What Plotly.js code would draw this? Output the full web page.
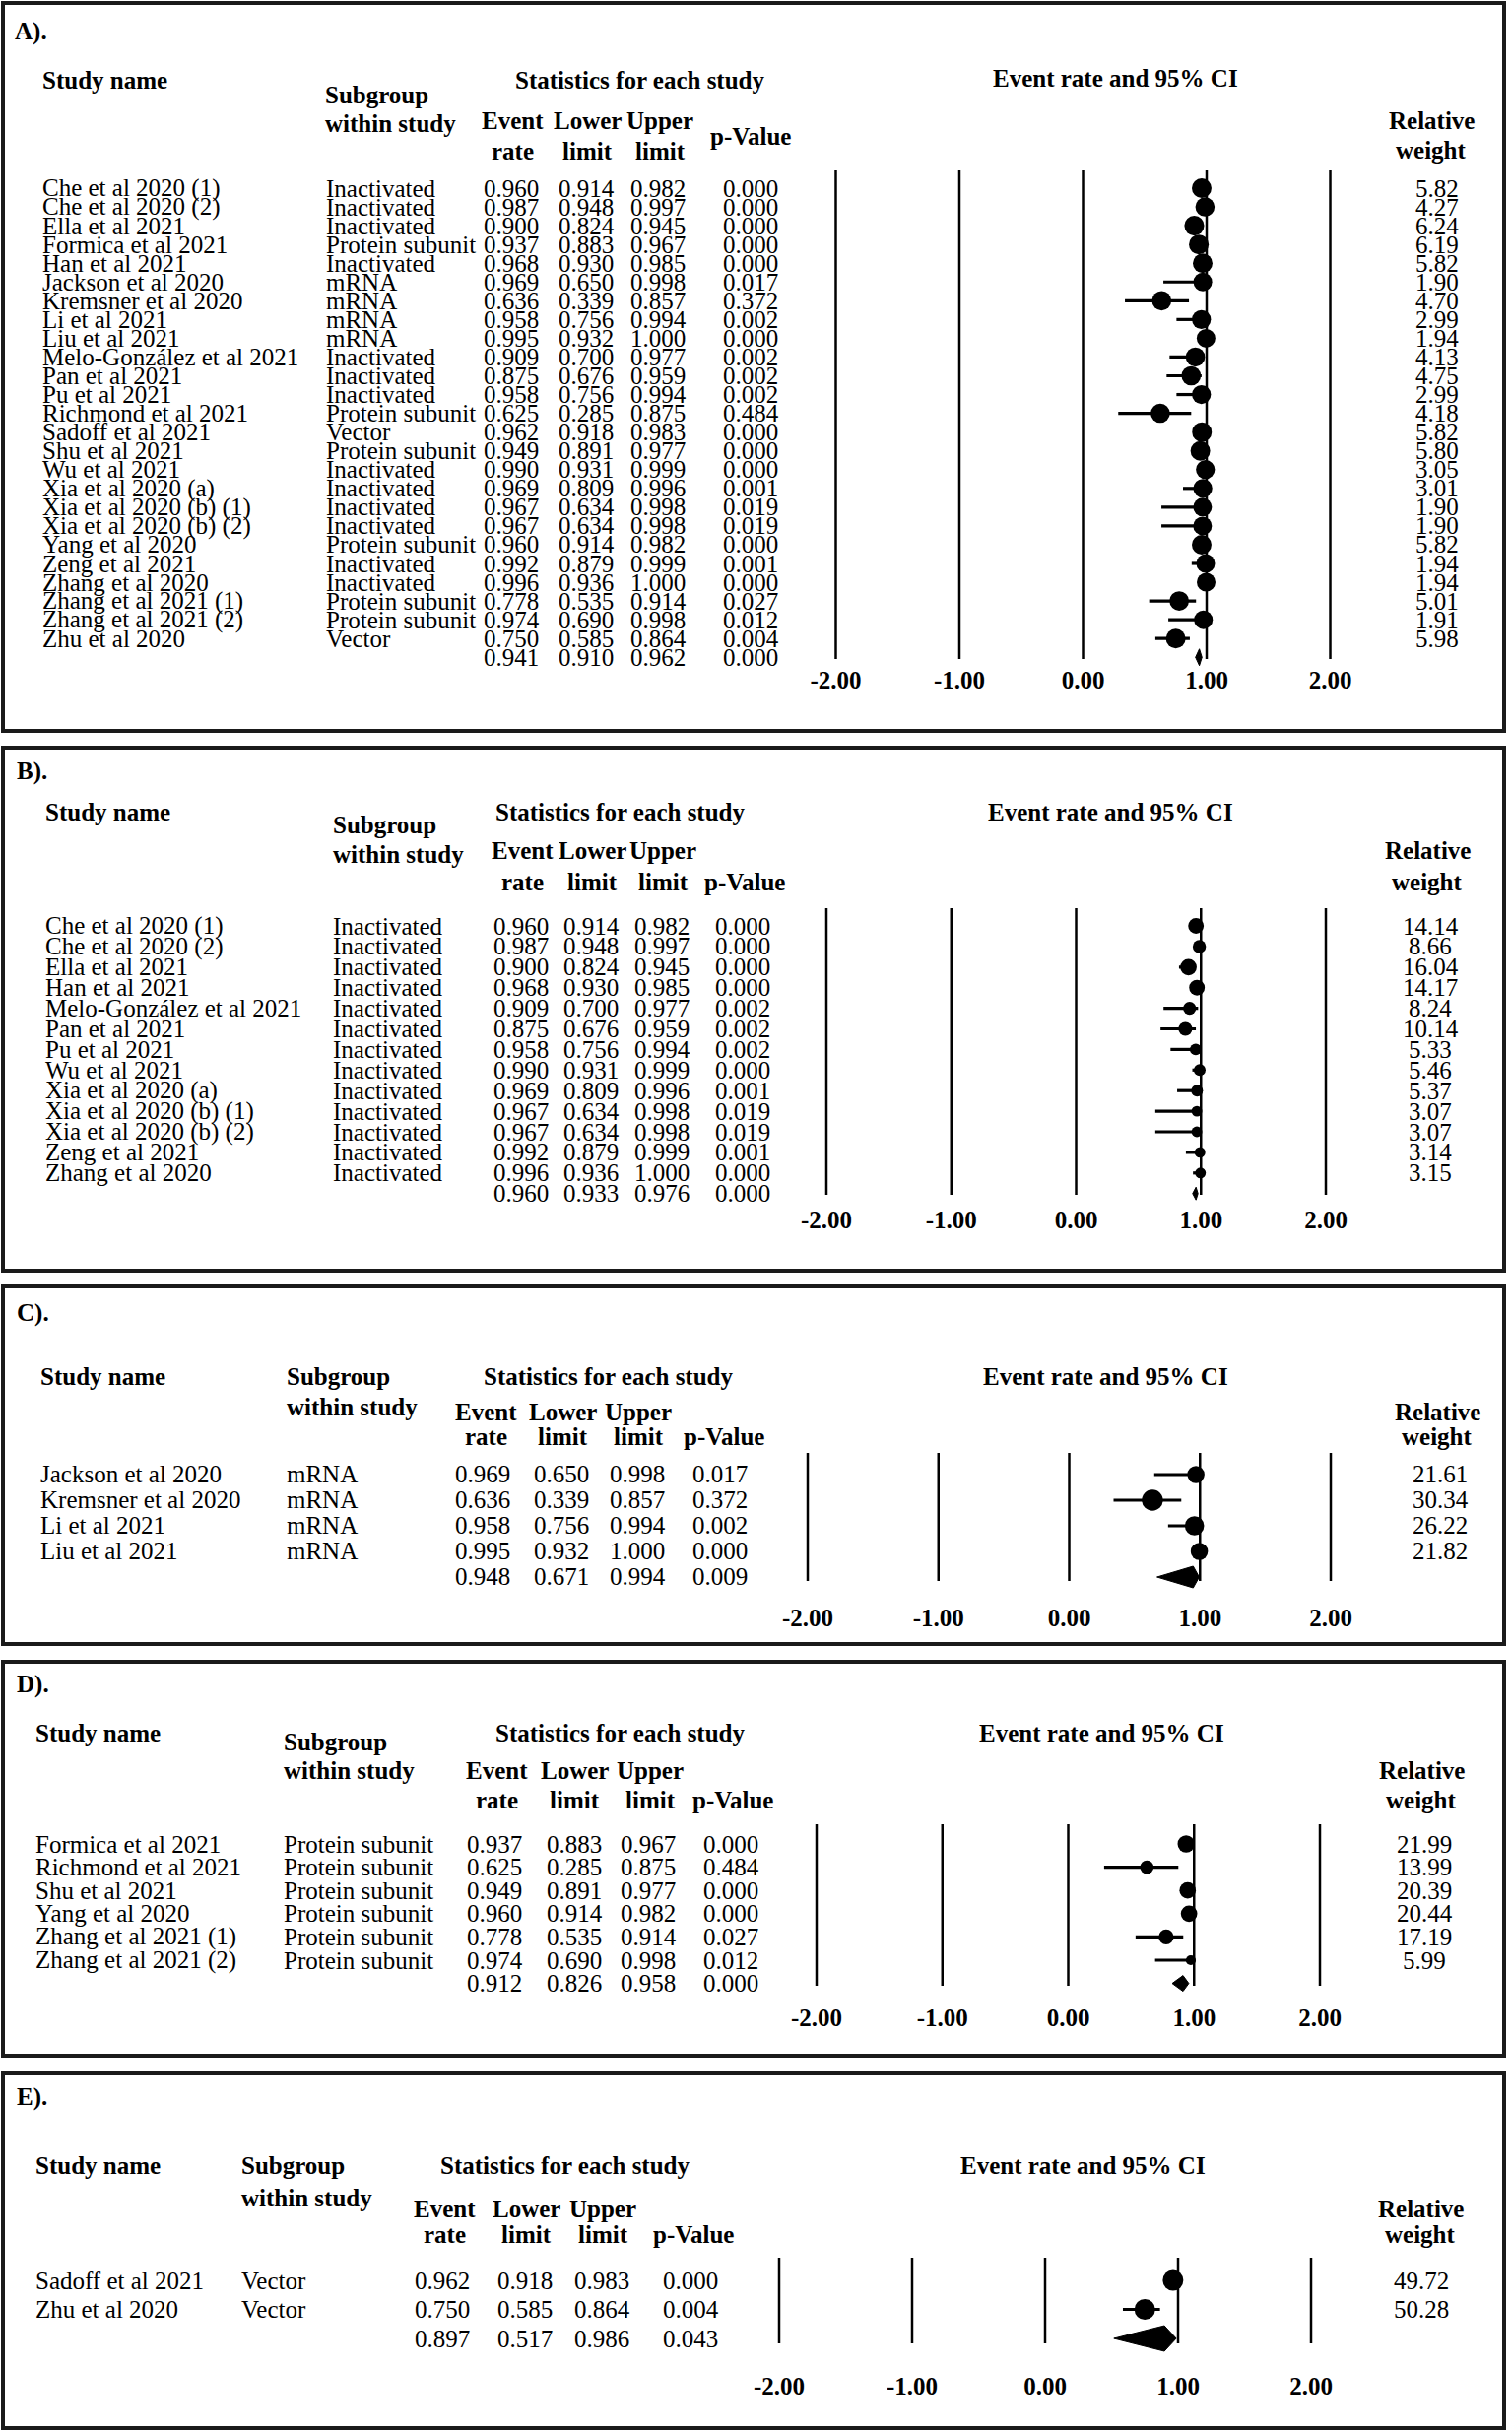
<!DOCTYPE html>
<html><head><meta charset="utf-8">
<script src="https://cdn.plot.ly/plotly-3.0.1.min.js"></script>
<style>html,body{margin:0;padding:0;background:#fff}#chart{width:1535px;height:2470px}</style>
</head><body><div id="chart"></div>
<script>
// ---------------- DATA ----------------
const studies = ["Che et al 2020 (1)","Che et al 2020 (2)","Ella et al 2021","Formica et al 2021","Han et al 2021",
  "Jackson et al 2020","Kremsner et al 2020","Li et al 2021","Liu et al 2021","Melo-González et al 2021",
  "Pan et al 2021","Pu et al 2021","Richmond et al 2021","Sadoff et al 2021","Shu et al 2021","Wu et al 2021",
  "Xia et al 2020 (a)","Xia et al 2020 (b) (1)","Xia et al 2020 (b) (2)","Yang et al 2020","Zeng et al 2021",
  "Zhang et al 2020","Zhang et al 2021 (1)","Zhang et al 2021 (2)","Zhu et al 2020"];
const subgroups = ["Inactivated","Inactivated","Inactivated","Protein subunit","Inactivated","mRNA","mRNA","mRNA","mRNA",
  "Inactivated","Inactivated","Inactivated","Protein subunit","Vector","Protein subunit","Inactivated","Inactivated",
  "Inactivated","Inactivated","Protein subunit","Inactivated","Inactivated","Protein subunit","Protein subunit","Vector"];
const eventRate = [0.960,0.987,0.900,0.937,0.968,0.969,0.636,0.958,0.995,0.909,0.875,0.958,0.625,0.962,0.949,0.990,0.969,0.967,0.967,0.960,0.992,0.996,0.778,0.974,0.750];
const lowerLimit = [0.914,0.948,0.824,0.883,0.930,0.650,0.339,0.756,0.932,0.700,0.676,0.756,0.285,0.918,0.891,0.931,0.809,0.634,0.634,0.914,0.879,0.936,0.535,0.690,0.585];
const upperLimit = [0.982,0.997,0.945,0.967,0.985,0.998,0.857,0.994,1.000,0.977,0.959,0.994,0.875,0.983,0.977,0.999,0.996,0.998,0.998,0.982,0.999,1.000,0.914,0.998,0.864];
const pValue = [0.000,0.000,0.000,0.000,0.000,0.017,0.372,0.002,0.000,0.002,0.002,0.002,0.484,0.000,0.000,0.000,0.001,0.019,0.019,0.000,0.001,0.000,0.027,0.012,0.004];

const weightA = [5.82,4.27,6.24,6.19,5.82,1.90,4.70,2.99,1.94,4.13,4.75,2.99,4.18,5.82,5.80,3.05,3.01,1.90,1.90,5.82,1.94,1.94,5.01,1.91,5.98];
const weightB = [14.14,8.66,16.04,14.17,8.24,10.14,5.33,5.46,5.37,3.07,3.07,3.14,3.15];
const weightC = [21.61,30.34,26.22,21.82];
const weightD = [21.99,13.99,20.39,20.44,17.19,5.99];
const weightE = [49.72,50.28];

const panelLabels = ["A).","B).","C).","D).","E)."];
const panelGroups = [null,"Inactivated","mRNA","Protein subunit","Vector"];
const pooledRate  = [0.941,0.960,0.948,0.912,0.897];
const pooledLower = [0.910,0.933,0.671,0.826,0.517];
const pooledUpper = [0.962,0.976,0.994,0.958,0.986];
const pooledP     = [0.000,0.000,0.009,0.000,0.043];
const tickVals = [-2,-1,0,1,2];

// ---------------- LAYOUT GEOMETRY (pixels) ----------------
const W = 1535, H = 2470;
const FONT = "Liberation Serif, 'Times New Roman', Times, serif";
const geo = [
 {box:[3,3,1527,742], lab:[13,32],
  head:{study:[41,82], sub:[328,97,126], stats:[650,82], cols:[520,596,670], hy:[123,153], p:[762,138], ci:[1132,80], rel:[1453,123,152]},
  rows:{first:191, step:19.05}, cols:{name:41, sub:329, rate:519, lower:595, upper:668, p:762, w:1459},
  forest:{zero:1099.5, unit:125.5, top:173, bottom:669, tickY:690}, mk:[18.5,0.25], dh:8.5},
 {box:[3,759,1527,1290], lab:[15,783],
  head:{study:[44,824], sub:[336,837,867], stats:[630,824], cols:[530,601,673], hy:[864,895], p:[756,895], ci:[1127,824], rel:[1449,864,895]},
  rows:{first:940, step:20.9}, cols:{name:44, sub:336, rate:529, lower:600, upper:672, p:754, w:1452},
  forest:{zero:1092.5, unit:126.75, top:922, bottom:1213, tickY:1238}, mk:[9.5,0.45], dh:6.5},
 {box:[3,1306,1527,1669], lab:[15,1333],
  head:{study:[39,1397], sub:[289,1397,1428], stats:[618,1397], cols:[493,571,648], hy:[1433,1458], p:[735,1458], ci:[1122,1397], rel:[1459,1433,1458]},
  rows:{first:1497, step:26}, cols:{name:39, sub:289, rate:490, lower:570, upper:647, p:731, w:1462},
  forest:{zero:1085.5, unit:132.75, top:1475, bottom:1605, tickY:1642}, mk:[7.5,0.46], dh:11},
 {box:[3,1687,1527,2087], lab:[15,1710],
  head:{study:[34,1760], sub:[286,1768,1797], stats:[630,1760], cols:[504,583,660], hy:[1797,1827], p:[744,1827], ci:[1118,1760], rel:[1443,1797,1827]},
  rows:{first:1872, step:23.6}, cols:{name:34, sub:286, rate:502, lower:583, upper:658, p:742, w:1446},
  forest:{zero:1084.5, unit:127.75, top:1852, bottom:2016, tickY:2048}, mk:[7.5,0.45], dh:8},
 {box:[3,2105,1527,2465], lab:[15,2129],
  head:{study:[34,2198], sub:[243,2198,2231], stats:[574,2198], cols:[451,534,612], hy:[2242,2268], p:[704,2268], ci:[1099,2198], rel:[1442,2242,2268]},
  rows:{first:2315, step:29.5}, cols:{name:34, sub:243, rate:449, lower:533, upper:611, p:701, w:1443},
  forest:{zero:1061, unit:135, top:2292, bottom:2379, tickY:2422}, mk:[12,0.18], dh:13}
];
const panelWeights = [weightA, weightB, weightC, weightD, weightE];

const px = x => x / W;
const py = y => 1 - y / H;
const bodyFont = {family: FONT, size: 25, color: "#000"};
const headFont = {family: FONT, size: 25, color: "#000"};

const traces = [], annotations = [], shapes = [];
const layout = {width: W, height: H, margin: {l:0, r:0, t:0, b:0}, showlegend: false,
  paper_bgcolor: "#fff", plot_bgcolor: "rgba(0,0,0,0)", annotations, shapes};

function paperText(text, x, y, anchor, font) {
  annotations.push({text, x: px(x), y: py(y), xref: "paper", yref: "paper", xanchor: anchor, yanchor: "middle",
    showarrow: false, font: font || headFont});
}

geo.forEach((g, k) => {
  const ax = k === 0 ? "" : String(k + 1);
  const xName = "xaxis" + ax, yName = "yaxis" + ax;
  const xr = "x" + ax, yr = "y" + ax;
  // rows of this panel
  const idx = studies.map((s, i) => i).filter(i => panelGroups[k] === null || subgroups[i] === panelGroups[k]);
  const wts = panelWeights[k];
  const n = idx.length;
  const rowVal = p => (p - g.rows.first) / g.rows.step;
  const yTop = g.forest.top - 20, yBot = g.forest.bottom + 20;
  const f = g.forest;
  layout[xName] = {domain: [px(f.zero - 2.25 * f.unit), px(f.zero + 2.25 * f.unit)], range: [-2.25, 2.25],
    anchor: "free", position: py(f.tickY - 17), tickmode: "array", tickvals: tickVals,
    ticktext: tickVals.map(v => "<b>" + v.toFixed(2) + "</b>"), ticks: "", showgrid: false, zeroline: false,
    showline: false, tickfont: {family: FONT, size: 25, color: "#000"}, fixedrange: true};
  layout[yName] = {domain: [py(yBot), py(yTop)], range: [rowVal(yBot), rowVal(yTop)], anchor: xr, visible: false,
    showgrid: false, zeroline: false, fixedrange: true};

  // box
  shapes.push({type: "rect", xref: "paper", yref: "paper", x0: px(g.box[0]), x1: px(g.box[2]), y0: py(g.box[1]), y1: py(g.box[3]),
    line: {color: "#1a1a1a", width: 4}, fillcolor: "rgba(0,0,0,0)"});
  // vertical reference lines
  tickVals.forEach(v => shapes.push({type: "line", xref: xr, yref: "paper", x0: v, x1: v, y0: py(f.top), y1: py(f.bottom),
    line: {color: "#000", width: 2.5}}));

  // headers
  const h = g.head;
  paperText("<b>" + panelLabels[k] + "</b>", g.lab[0], g.lab[1], "left");
  paperText("<b>Study name</b>", h.study[0], h.study[1], "left");
  paperText("<b>Subgroup</b>", h.sub[0], h.sub[1], "left");
  paperText("<b>within study</b>", h.sub[0], h.sub[2], "left");
  paperText("<b>Statistics for each study</b>", h.stats[0], h.stats[1], "center");
  ["Event","Lower","Upper"].forEach((t, j) => paperText("<b>" + t + "</b>", h.cols[j], h.hy[0], "center"));
  ["rate","limit","limit"].forEach((t, j) => paperText("<b>" + t + "</b>", h.cols[j], h.hy[1], "center"));
  paperText("<b>p-Value</b>", h.p[0], h.p[1], "center");
  paperText("<b>Event rate and 95% CI</b>", h.ci[0], h.ci[1], "center");
  paperText("<b>Relative</b>", h.rel[0], h.rel[1], "center");
  paperText("<b>weight</b>", h.rel[0], h.rel[2], "center");

  // table rows
  const c = g.cols;
  const rowText = (text, x, row, anchor) => annotations.push({text, x: px(x), y: row, xref: "paper", yref: yr,
    xanchor: anchor, yanchor: "middle", showarrow: false, font: bodyFont});
  idx.forEach((i, r) => {
    rowText(studies[i], c.name, r, "left");
    rowText(subgroups[i], c.sub, r, "left");
    rowText(eventRate[i].toFixed(3), c.rate, r, "center");
    rowText(lowerLimit[i].toFixed(3), c.lower, r, "center");
    rowText(upperLimit[i].toFixed(3), c.upper, r, "center");
    rowText(pValue[i].toFixed(3), c.p, r, "center");
    rowText(wts[r].toFixed(2), c.w, r, "center");
  });
  rowText(pooledRate[k].toFixed(3), c.rate, n, "center");
  rowText(pooledLower[k].toFixed(3), c.lower, n, "center");
  rowText(pooledUpper[k].toFixed(3), c.upper, n, "center");
  rowText(pooledP[k].toFixed(3), c.p, n, "center");

  // study markers with CI
  traces.push({type: "scatter", mode: "markers", xaxis: xr, yaxis: yr, cliponaxis: false,
    x: idx.map(i => eventRate[i]), y: idx.map((i, r) => r),
    marker: {symbol: "circle", color: "#000", opacity: 1, line: {width: 0},
      size: wts.map(w => g.mk[0] + g.mk[1] * w)},
    error_x: {type: "data", symmetric: false, array: idx.map(i => upperLimit[i] - eventRate[i]),
      arrayminus: idx.map(i => eventRate[i] - lowerLimit[i]), color: "#000", thickness: 3.2, width: 0},
    hoverinfo: "skip"});
  // pooled diamond
  const d = g.dh / g.rows.step;
  traces.push({type: "scatter", mode: "lines", xaxis: xr, yaxis: yr, fill: "toself", fillcolor: "#000",
    x: [pooledLower[k], pooledRate[k], pooledUpper[k], pooledRate[k], pooledLower[k]],
    y: [n, n - d, n, n + d, n], line: {color: "#000", width: 1}, hoverinfo: "skip"});
});

Plotly.newPlot("chart", traces, layout, {staticPlot: true, displayModeBar: false});
</script>
</body></html>
